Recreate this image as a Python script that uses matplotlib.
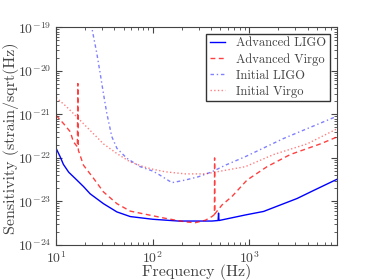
import numpy as np
import matplotlib
matplotlib.use('Agg')
import matplotlib.pyplot as plt

plt.rcParams['font.family'] = 'serif'
plt.rcParams['font.serif'] = ['cmr10']
plt.rcParams['mathtext.fontset'] = 'cm'
plt.rcParams['axes.unicode_minus'] = False
plt.rcParams['axes.formatter.use_mathtext'] = True

# Advanced LIGO
f_aligo = [10, 11.0, 11.9, 13.5, 16.4, 19.2, 22.5, 30.9, 42.6, 58.5, 100, 185, 410, 475, 480, 485, 910,
           1405, 2090, 3120, 4650, 8000]
s_aligo = [1.66e-22, 1.07e-22, 7.1e-23, 4.7e-23, 3.1e-23, 2.2e-23, 1.5e-23, 8.9e-24, 5.75e-24, 4.5e-24,
           3.9e-24, 3.55e-24, 3.55e-24, 3.65e-24, 5.4e-24, 3.65e-24, 4.9e-24,
           5.9e-24, 8.3e-24, 1.17e-23, 1.8e-23, 3.2e-23]

# Advanced Virgo
f_avirgo = [10, 11.9, 14, 15.1, 16.6, 16.8, 17.0, 19.2, 24.4, 30.9, 42.6, 58.5, 100, 135, 217, 275, 350, 410,
            435, 437, 440, 521, 661, 946, 1525, 2660, 5440, 8000]
s_avirgo = [9.5e-22, 6.2e-22, 4.0e-22, 2.35e-22, 1.8e-22, 5.1e-21, 1.5e-22, 6.8e-23, 3.4e-23, 1.66e-23,
            8.9e-24, 6.0e-24, 4.7e-24, 4.1e-24, 3.4e-24, 3.25e-24, 3.7e-24, 4.5e-24,
            5.0e-24, 1.0e-22, 5.2e-24, 8.3e-24, 1.3e-23, 3.1e-23, 6.3e-23, 1.2e-22, 2.1e-22, 3.0e-22]

# Initial LIGO
f_iligo = [23.2, 23.8, 26.4, 28.6, 30.9, 33.5, 37.7, 42.6, 54, 74, 100, 115, 158, 217, 298, 410, 564, 910, 2265, 8000]
s_iligo = [1.2e-19, 8.1e-20, 2.5e-20, 8.7e-21, 3.0e-21, 1.05e-21, 3.1e-22, 1.66e-22, 9.8e-23, 6.3e-23,
           5.0e-23, 4.2e-23, 2.7e-23, 3.1e-23, 3.7e-23, 4.8e-23, 6.8e-23, 1.07e-22, 2.8e-22, 9.0e-22]

# Initial Virgo
f_ivirgo = [10, 12.9, 16.4, 20.8, 26.4, 30.9, 42.6, 58.5, 80, 100, 135, 217, 350, 564, 910, 1790, 3960, 8000]
s_ivirgo = [2.45e-21, 1.48e-21, 8.7e-22, 5.1e-22, 3.0e-22, 2.1e-22, 1.26e-22, 8.1e-23, 6.3e-23, 5.5e-23,
            4.8e-23, 4.3e-23, 4.3e-23, 5.2e-23, 6.3e-23, 1.2e-22, 2.1e-22, 4.6e-22]

fig = plt.figure(figsize=(3.74, 2.8), dpi=100)
ax = fig.add_axes([0.150, 0.125, 0.750, 0.7775])

ax.loglog(f_aligo, s_aligo, '-', color='b', lw=1.0, label='Advanced LIGO')
ax.loglog(f_avirgo, s_avirgo, '--', color='r', lw=1.0, alpha=0.75, dashes=(3.5, 2.5), label='Advanced Virgo')
ax.loglog(f_iligo, s_iligo, '-.', color='b', lw=1.0, alpha=0.5, dashes=(2.5, 2, 1, 2), label='Initial LIGO')
ax.loglog(f_ivirgo, s_ivirgo, ':', color='r', lw=1.0, alpha=0.5, label='Initial Virgo')

ax.set_xlim(10, 8000)
ax.set_ylim(1e-24, 1e-19)
ax.set_xlabel('Frequency (Hz)', fontsize=11.5, color='#444444')
ax.set_ylabel('Sensitivity (strain/sqrt(Hz)', fontsize=11.5, color='#444444')
ax.xaxis.set_label_coords(0.5, -0.088)
ax.yaxis.set_label_coords(-0.132, 0.49)
ax.tick_params(which='both', direction='in', top=True, right=True, labelsize=10, colors='#444444')
ax.tick_params(which='major', length=4)
ax.tick_params(which='minor', length=2)
for sp in ax.spines.values():
    sp.set_color('#444444')

leg = ax.legend(loc='upper right', fontsize=9, fancybox=False, handlelength=1.2, handletextpad=0.9,
                labelspacing=0.3, borderpad=0.3, framealpha=1)
leg.get_frame().set_edgecolor('#333333')
for t in leg.get_texts():
    t.set_color('#444444')

fig.savefig('out.png', dpi=100)
